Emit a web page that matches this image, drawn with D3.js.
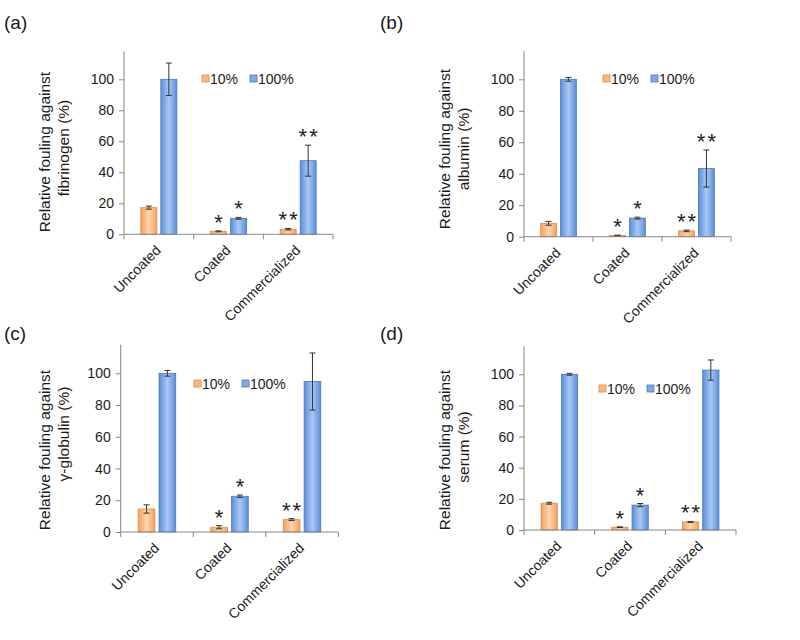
<!DOCTYPE html>
<html>
<head>
<meta charset="utf-8">
<script src="https://cdn.jsdelivr.net/npm/d3@7/dist/d3.min.js"></script>
<style>
  body { margin: 0; background: #fff; }
  svg { font-family: "Liberation Sans", Arial, sans-serif; }
</style>
</head>
<body>
<svg id="chart" width="800" height="640"></svg>
<script>
// ---------- data ----------
const categories = ["Uncoated", "Coated", "Commercialized"];
const seriesNames = ["10%", "100%"];
const yTicks = [0, 20, 40, 60, 80, 100];

const fibrinogen10 = [17.2, 1.9, 3.3];
const fibrinogen10Err = [1.0, 0.3, 0.5];
const fibrinogen100 = [100, 10.3, 47.5];
const fibrinogen100Err = [10.5, 0.6, 10.0];
const fibrinogenSig10 = ["", "*", "**"];
const fibrinogenSig100 = ["", "*", "**"];

const albumin10 = [8.5, 0.8, 3.7];
const albumin10Err = [1.2, 0.2, 0.5];
const albumin100 = [100, 11.8, 43.3];
const albumin100Err = [1.2, 0.6, 11.8];
const albuminSig10 = ["", "*", "**"];
const albuminSig100 = ["", "*", "**"];

const globulin10 = [14.5, 3.0, 7.8];
const globulin10Err = [2.6, 1.0, 0.6];
const globulin100 = [100, 22.5, 94.8];
const globulin100Err = [1.8, 0.8, 18.0];
const globulinSig10 = ["", "*", "**"];
const globulinSig100 = ["", "*", ""];

const serum10 = [17.2, 1.8, 5.2];
const serum10Err = [0.6, 0.2, 0.3];
const serum100 = [100, 16.0, 102.7];
const serum100Err = [0.6, 1.0, 6.5];
const serumSig10 = ["", "*", "**"];
const serumSig100 = ["", "*", ""];

const yMax = 118;

// ---------- layout ----------
const panels = [
  { tag: "(a)", tagX: 4, tagY: 29, x0: 124, x1: 333, y0: 234.3, y100: 79.3,
    yLabel: ["Relative fouling against", "fibrinogen (%)"], labX: [50, 69], labY: [152, 148],
    legX: 202, legY: 84,
    v10: fibrinogen10, e10: fibrinogen10Err, v100: fibrinogen100, e100: fibrinogen100Err,
    s10: fibrinogenSig10, s100: fibrinogenSig100 },
  { tag: "(b)", tagX: 380, tagY: 29, x0: 524, x1: 731, y0: 236.7, y100: 79.3,
    yLabel: ["Relative fouling against", "albumin (%)"], labX: [450, 469], labY: [149, 149],
    legX: 603, legY: 84,
    v10: albumin10, e10: albumin10Err, v100: albumin100, e100: albumin100Err,
    s10: albuminSig10, s100: albuminSig100 },
  { tag: "(c)", tagX: 4, tagY: 340, x0: 120.7, x1: 338.3, y0: 532, y100: 373.3,
    yLabel: ["Relative fouling against", "γ-globulin (%)"], labX: [50, 69], labY: [450, 434],
    legX: 194, legY: 389,
    v10: globulin10, e10: globulin10Err, v100: globulin100, e100: globulin100Err,
    s10: globulinSig10, s100: globulinSig100 },
  { tag: "(d)", tagX: 380, tagY: 340, x0: 524, x1: 736, y0: 530, y100: 374.3,
    yLabel: ["Relative fouling against", "serum (%)"], labX: [450, 469], labY: [450, 447],
    legX: 599, legY: 394,
    v10: serum10, e10: serum10Err, v100: serum100, e100: serum100Err,
    s10: serumSig10, s100: serumSig100 }
];

const svg = d3.select("#chart");
const defs = svg.append("defs");

function grad(id, edge, mid) {
  const g = defs.append("linearGradient").attr("id", id)
    .attr("x1", "0%").attr("x2", "100%").attr("y1", "0%").attr("y2", "0%");
  g.append("stop").attr("offset", "0%").attr("stop-color", edge);
  g.append("stop").attr("offset", "50%").attr("stop-color", mid);
  g.append("stop").attr("offset", "100%").attr("stop-color", edge);
}
grad("gOrange", "#f3a15f", "#fdd5b0");
grad("gBlue", "#5a8edb", "#aac8f2");

const fills = { "10%": "url(#gOrange)", "100%": "url(#gBlue)" };
const strokes = { "10%": "#e08a45", "100%": "#4a78b8" };
const legendFills = { "10%": "#f8b880", "100%": "#7ea8e6" };
const textColor = "#1a1a1a";

panels.forEach(p => {
  const g = svg.append("g");
  const yTop = p.y0 - (yMax / 100) * (p.y0 - p.y100);
  const y = d3.scaleLinear().domain([0, yMax]).range([p.y0, yTop]);
  const x = d3.scaleBand().domain(categories).range([p.x0, p.x1]).padding(0);
  const xs = d3.scaleBand().domain(seriesNames).range([0, x.bandwidth()])
    .paddingInner(0.2).paddingOuter(0.84);

  const rows = [];
  categories.forEach((c, i) => {
    rows.push({ cat: c, s: "10%", v: p.v10[i], e: p.e10[i], sig: p.s10[i] });
    rows.push({ cat: c, s: "100%", v: p.v100[i], e: p.e100[i], sig: p.s100[i] });
  });

  // bars
  g.selectAll("rect.bar").data(rows).enter().append("rect")
    .attr("x", d => x(d.cat) + xs(d.s))
    .attr("width", xs.bandwidth())
    .attr("y", d => y(d.v))
    .attr("height", d => y(0) - y(d.v))
    .attr("fill", d => fills[d.s])
    .attr("stroke", d => strokes[d.s])
    .attr("stroke-width", 0.8);

  // error bars
  const cap = 3;
  rows.forEach(d => {
    const cx = x(d.cat) + xs(d.s) + xs.bandwidth() / 2;
    const yt = y(d.v + d.e), yb = y(Math.max(0, d.v - d.e));
    g.append("line").attr("x1", cx).attr("x2", cx).attr("y1", yt).attr("y2", yb)
      .attr("stroke", "#333").attr("stroke-width", 1);
    [yt, yb].forEach(yy => g.append("line")
      .attr("x1", cx - cap).attr("x2", cx + cap).attr("y1", yy).attr("y2", yy)
      .attr("stroke", "#333").attr("stroke-width", 1));
    if (d.sig) {
      g.append("text").attr("x", cx).attr("y", yt - 1)
        .attr("text-anchor", "middle").attr("font-size", 22)
        .attr("letter-spacing", d.sig.length > 1 ? 2 : 0)
        .attr("dx", d.sig.length > 1 ? 1 : 0)
        .attr("fill", "#222").text(d.sig);
    }
  });

  // y axis
  const yAxis = d3.axisLeft(y).tickValues(yTicks).tickSize(5).tickPadding(5);
  const ya = g.append("g").attr("transform", `translate(${p.x0},0)`).call(yAxis);
  ya.select(".domain").attr("stroke", "#868686").attr("d", `M-0,${p.y0}V${yTop}`);
  ya.selectAll(".tick line").attr("stroke", "#868686");
  ya.selectAll(".tick text").attr("font-size", 14).attr("fill", textColor)
    .attr("font-family", "Liberation Sans, Arial, sans-serif");

  // x axis
  const xAxis = d3.axisBottom(x).tickSize(0).tickFormat("");
  const xa = g.append("g").attr("transform", `translate(0,${p.y0})`).call(xAxis);
  xa.select(".domain").attr("stroke", "#868686").attr("d", `M${p.x0},0H${p.x1}`);
  xa.selectAll(".tick").remove();
  const bounds = categories.map(c => x(c)).concat([p.x1]);
  xa.selectAll("line.bt").data(bounds).enter().append("line")
    .attr("x1", d => d).attr("x2", d => d).attr("y1", 0).attr("y2", 5)
    .attr("stroke", "#868686");
  xa.selectAll("text.cl").data(categories).enter().append("text")
    .attr("transform", d => `translate(${x(d) + x.bandwidth() / 2 + 3},${17}) rotate(-45)`)
    .attr("text-anchor", "end").attr("font-size", 14).attr("fill", textColor)
    .text(d => d);

  // y label
  p.yLabel.forEach((t, i) => {
    g.append("text")
      .attr("transform", `translate(${p.labX[i]},${p.labY[i]}) rotate(-90)`)
      .attr("text-anchor", "middle").attr("font-size", 15.5).attr("fill", textColor)
      .text(t);
  });

  // legend
  const lg = g.append("g").attr("transform", `translate(${p.legX},${p.legY})`);
  const items = [{ s: "10%", dx: 0 }, { s: "100%", dx: 48 }];
  items.forEach(it => {
    lg.append("rect").attr("x", it.dx).attr("y", -9).attr("width", 7).attr("height", 7)
      .attr("fill", legendFills[it.s]).attr("stroke", strokes[it.s]).attr("stroke-width", 0.8);
    lg.append("text").attr("x", it.dx + 8).attr("y", 0).attr("font-size", 14)
      .attr("fill", textColor).text(it.s);
  });

  // panel tag
  svg.append("text").attr("x", p.tagX).attr("y", p.tagY).attr("font-size", 19)
    .attr("fill", textColor).text(p.tag);
});
</script>
</body>
</html>
